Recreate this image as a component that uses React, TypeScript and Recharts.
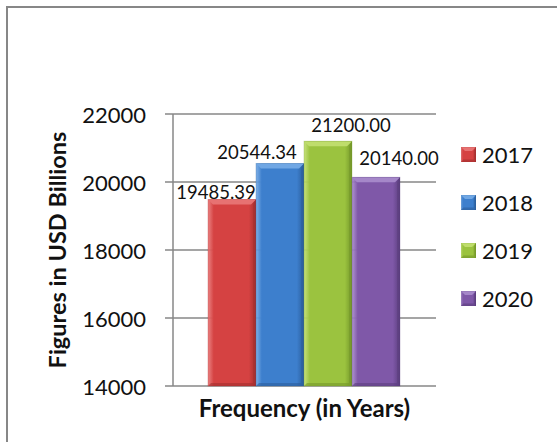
import React from 'react';
import { BarChart, Bar, XAxis, YAxis, CartesianGrid, Legend, LabelList, Label } from 'recharts';

// GDP per year, one bar per year inside a single category
const YEARS = ['2017', '2018', '2019', '2020'];
const GDP = [19485.39, 20544.34, 21200.0, 20140.0];
const Y_TICKS = [14000, 16000, 18000, 20000, 22000];

const data = [
  YEARS.reduce<Record<string, number | string>>(
    (row, year, i) => ({ ...row, [year]: GDP[i] }),
    { name: 'Frequency' }
  ),
];

// face / highlight / shadow for each series
const TONES = [
  { face: '#d54242', light: '#e77272', dark: '#a42f2f' },
  { face: '#3d7fcd', light: '#70a7e4', dark: '#2b5e9c' },
  { face: '#9bc33f', light: '#bfdd6c', dark: '#74982a' },
  { face: '#7f58a8', light: '#a587c9', dark: '#5b3e7e' },
];

// value labels sit off-centre so neighbours don't collide
const LABEL_NUDGE = [
  { dx: -16, dy: 0 },
  { dx: -23, dy: -4 },
  { dx: 23, dy: -9.5 },
  { dx: 23, dy: -12.5 },
];

const FONT = 'Lato, "Open Sans", sans-serif';
const GRID = '#878787';

function Gradients() {
  return (
    <defs>
      {TONES.map((t, i) => (
        <linearGradient key={i} id={`face-${i}`} x1="0" y1="0" x2="1" y2="0">
          <stop offset="0%" stopColor={t.light} stopOpacity={0.9} />
          <stop offset="12%" stopColor={t.face} />
          <stop offset="85%" stopColor={t.face} />
          <stop offset="100%" stopColor={t.dark} />
        </linearGradient>
      ))}
    </defs>
  );
}

function BevelBox({ x, y, width, height, tone, id, b }: any) {
  if (!width || !height) return null;
  const r = x + width;
  const bt = y + height;
  return (
    <g>
      <rect x={x} y={y} width={width} height={height} fill={`url(#face-${id})`} />
      <polygon points={`${x},${y} ${r},${y} ${r - b},${y + b} ${x + b},${y + b}`} fill={tone.light} />
      <polygon points={`${r},${y} ${r},${bt} ${r - b * 0.6},${bt - b * 0.6} ${r - b * 0.6},${y + b}`} fill={tone.dark} opacity={0.55} />
      <polygon points={`${x},${bt} ${r},${bt} ${r - b * 0.6},${bt - b * 0.6} ${x + b * 0.6},${bt - b * 0.6}`} fill={tone.dark} opacity={0.6} />
      <rect x={x} y={y} width={width} height={height} fill="none" stroke={tone.dark} strokeOpacity={0.35} strokeWidth={0.8} />
    </g>
  );
}

function ValueLabel(props: any) {
  const { x, y, width, value, seriesIndex } = props;
  const n = LABEL_NUDGE[seriesIndex];
  return (
    <text
      x={x + width / 2 + n.dx}
      y={y + n.dy}
      textAnchor="middle"
      fontFamily={FONT}
      fontSize={18.5}
      fill="#111"
    >
      {Number(value).toFixed(2)}
    </text>
  );
}

function YTick({ y, payload }: any) {
  return (
    <text x={146} y={y} textAnchor="end" dominantBaseline="central" fontFamily={FONT} fontSize={22} fill="#111">
      {payload.value}
    </text>
  );
}

function LegendBox() {
  return (
    <div style={{ fontFamily: FONT, fontSize: 22, color: '#111' }}>
      {YEARS.map((year, i) => (
        <div key={year} style={{ display: 'flex', alignItems: 'center', height: 48 }}>
          <svg width={15} height={15} style={{ marginRight: 6 }}>
            <Gradients />
            <BevelBox x={0} y={0} width={15} height={15} tone={TONES[i]} id={i} b={4} />
          </svg>
          <span>{year}</span>
        </div>
      ))}
    </div>
  );
}

function YTitle({ viewBox }: any) {
  const cx = 57;
  const cy = viewBox.y + viewBox.height / 2;
  return (
    <text
      x={cx}
      y={cy}
      transform={`rotate(-90, ${cx}, ${cy})`}
      textAnchor="middle"
      dominantBaseline="central"
      fontFamily={FONT}
      fontWeight={700}
      fontSize={23.5}
      fill="#111"
    >
      Figures in USD Billions
    </text>
  );
}

function XTitle({ viewBox }: any) {
  return (
    <text
      x={viewBox.x + viewBox.width / 2}
      y={407}
      textAnchor="middle"
      dominantBaseline="central"
      fontFamily={FONT}
      fontWeight={700}
      fontSize={24}
      fill="#111"
    >
      Frequency (in Years)
    </text>
  );
}

export default function App() {
  return (
    <div style={{ position: 'absolute', left: 0, top: 0, width: 557, height: 442, background: '#fff', overflow: 'hidden' }}>
      <div
        style={{
          position: 'absolute',
          left: 6,
          top: 6,
          width: 600,
          height: 500,
          borderLeft: `2px solid ${GRID}`,
          borderTop: `2px solid ${GRID}`,
        }}
      />
      <BarChart
        width={557}
        height={442}
        data={data}
        margin={{ top: 114, right: 121, bottom: 0, left: 0 }}
        barGap={0}
        barCategoryGap={35}
        style={{ position: 'absolute', left: 0, top: 0 }}
      >
        <Gradients />
        <CartesianGrid vertical={false} stroke={GRID} strokeWidth={1.5} />
        <XAxis dataKey="name" height={56} tick={false} tickLine={false} axisLine={false}>
          <Label content={<XTitle />} />
        </XAxis>
        <YAxis
          width={173}
          domain={[14000, 22000]}
          ticks={Y_TICKS}
          interval={0}
          tickSize={8}
          tickLine={{ stroke: GRID, strokeWidth: 1.5 }}
          axisLine={{ stroke: GRID, strokeWidth: 1.5 }}
          tick={<YTick />}
        >
          <Label content={<YTitle />} />
        </YAxis>
        <Legend
          layout="vertical"
          align="center"
          verticalAlign="middle"
          content={<LegendBox />}
          wrapperStyle={{ left: 461, top: 130, width: 90 }}
        />
        {YEARS.map((year, i) => (
          <Bar
            key={year}
            dataKey={year}
            fill={TONES[i].face}
            isAnimationActive={false}
            shape={(p: any) => <BevelBox {...p} tone={TONES[i]} id={i} b={5} />}
          >
            <LabelList dataKey={year} content={(p: any) => <ValueLabel {...p} seriesIndex={i} />} />
          </Bar>
        ))}
      </BarChart>
    </div>
  );
}
